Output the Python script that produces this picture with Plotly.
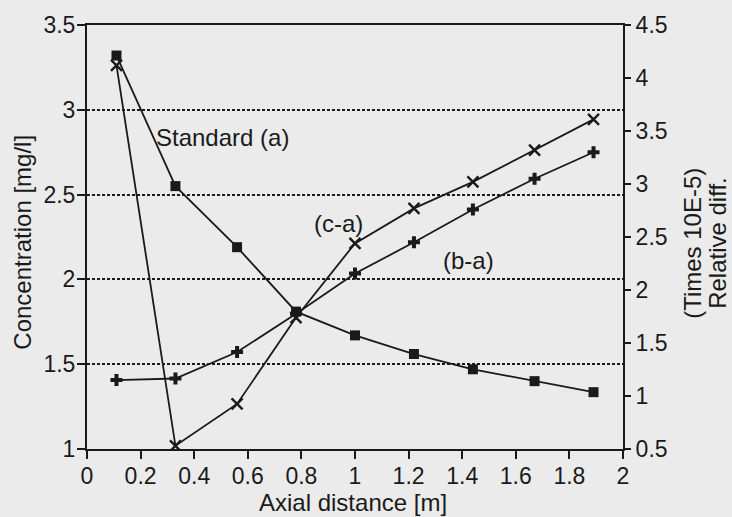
import plotly.graph_objects as go

# Axial positions of the sampling points [m]
distance = [0.11, 0.33, 0.56, 0.78, 1.00, 1.22, 1.44, 1.67, 1.89]

# Standard case concentration [mg/l] (left axis)
standard_a = [3.32, 2.55, 2.19, 1.81, 1.67, 1.56, 1.47, 1.40, 1.335]

# Relative differences, times 10E-5 (right axis)
diff_b_a = [1.15, 1.165, 1.415, 1.775, 2.155, 2.45, 2.76, 3.05, 3.30]
diff_c_a = [4.12, 0.53, 0.925, 1.74, 2.44, 2.77, 3.02, 3.32, 3.61]

x_ticks = [0, 0.2, 0.4, 0.6, 0.8, 1, 1.2, 1.4, 1.6, 1.8, 2]
left_ticks = [1, 1.5, 2, 2.5, 3, 3.5]
right_ticks = [0.5, 1, 1.5, 2, 2.5, 3, 3.5, 4, 4.5]

INK = "#1a1a1a"
BG = "#ebebeb"
FONT = "Liberation Sans, Arial, Helvetica, sans-serif"

fig = go.Figure()

fig.add_trace(go.Scatter(
    x=distance, y=diff_b_a, yaxis="y2", mode="lines+markers",
    line=dict(color=INK, width=1.8),
    marker=dict(symbol="cross", size=10, color=INK),
    name="(b-a)",
))
fig.add_trace(go.Scatter(
    x=distance, y=diff_c_a, yaxis="y2", mode="lines+markers",
    line=dict(color=INK, width=1.8),
    marker=dict(symbol="x-thin-open", size=11, color=INK,
                line=dict(color=INK, width=2.4)),
    name="(c-a)",
))
fig.add_trace(go.Scatter(
    x=distance, y=standard_a, mode="lines+markers",
    line=dict(color=INK, width=1.8),
    marker=dict(symbol="square", size=10, color=INK),
    name="Standard (a)",
))

axis_common = dict(
    showline=True, linecolor=INK, linewidth=2,
    ticks="outside", tickcolor=INK, tickwidth=2,
    tickfont=dict(family=FONT, size=23, color=INK),
    zeroline=False,
)

fig.update_layout(
    width=732, height=517,
    margin=dict(l=87, r=109, t=16, b=68),
    paper_bgcolor=BG, plot_bgcolor=BG,
    showlegend=False,
    font=dict(family=FONT, color=INK),
    xaxis=dict(
        range=[0, 2], tickvals=x_ticks,
        ticktext=[f"{v:g}" for v in x_ticks],
        ticklen=8, showgrid=False, mirror=True, ticklabelstandoff=-3,
        **axis_common,
    ),
    yaxis=dict(
        range=[1, 3.5], tickvals=left_ticks,
        ticktext=[f"{v:g}" for v in left_ticks],
        ticklen=8, showgrid=True, gridcolor=INK, gridwidth=1.6,
        griddash="3px,2px", ticklabelstandoff=-3,
        **axis_common,
    ),
    yaxis2=dict(
        range=[0.5, 4.5], tickvals=right_ticks,
        ticktext=[f"{v:g}" for v in right_ticks],
        overlaying="y", side="right", ticklen=6, showgrid=False,
        **axis_common,
    ),
)

label_font = dict(family=FONT, size=24, color=INK)

# Series labels placed inside the plot
for text, x, y in [("Standard (a)", 0.507, 2.836),
                   ("(c-a)", 0.94, 2.328),
                   ("(b-a)", 1.422, 2.114)]:
    fig.add_annotation(text=text, x=x, y=y, xref="x", yref="y",
                       showarrow=False, font=label_font,
                       xanchor="center", yanchor="middle")

# Axis titles
fig.add_annotation(text="Axial distance [m]", x=0.497, y=-0.125,
                   xref="paper", yref="paper", showarrow=False,
                   font=label_font, xanchor="center", yanchor="middle")
fig.add_annotation(text="Concentration [mg/l]", x=-0.121, y=0.487,
                   xref="paper", yref="paper", showarrow=False, textangle=-90,
                   font=label_font, xanchor="center", yanchor="middle")
fig.add_annotation(text="(Times 10E-5)", x=(692.5 - 87) / 536, y=0.485,
                   xref="paper", yref="paper", showarrow=False, textangle=-90,
                   font=label_font, xanchor="center", yanchor="middle")
fig.add_annotation(text="Relative diff.", x=(717.5 - 87) / 536, y=0.485,
                   xref="paper", yref="paper", showarrow=False, textangle=-90,
                   font=label_font, xanchor="center", yanchor="middle")

fig.write_html("out.html")
